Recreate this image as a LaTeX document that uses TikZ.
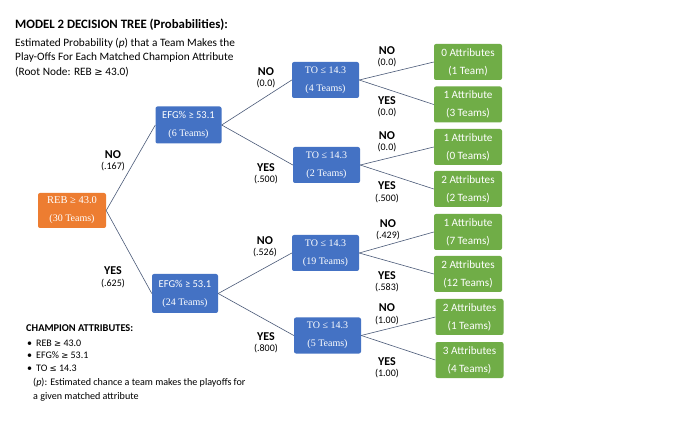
\documentclass[tikz,border=0pt]{standalone}
\usepackage{fontspec}
\setmainfont{Carlito}
\newfontfamily\serif{Liberation Serif}
\newfontfamily\symf{DejaVu Sans}
\definecolor{orng}{HTML}{ED7D31}
\definecolor{blu}{HTML}{4472C4}
\definecolor{grn}{HTML}{70AD47}
\definecolor{edgec}{HTML}{4A5A78}
\tikzset{
  tbox/.style={rounded corners=2pt, inner sep=0pt, text=white, align=center,
    font=\serif\fontsize{10}{18}\selectfont},
  rootbox/.style={tbox, fill=orng, minimum width=68pt, minimum height=35pt},
  efgbox/.style={tbox, fill=blu, minimum width=66pt, minimum height=37pt},
  tobox/.style={tbox, fill=blu, minimum width=67pt, minimum height=36pt},
  leafbox/.style={tbox, fill=grn, minimum width=68pt, minimum height=36pt,
    font=\fontsize{11.2}{18}\selectfont},
  conn/.style={draw=edgec, line width=0.6pt},
  lbl/.style={align=center, inner sep=0pt, font=\fontsize{10}{11.5}\selectfont},
  txt/.style={anchor=west, inner sep=0pt, font=\fontsize{11.3}{12}\selectfont}
}
\newcommand{\lb}[2]{{\bfseries\fontsize{12}{12}\selectfont #1}\\#2}
\begin{document}
\begin{tikzpicture}[x=1pt,y=-1pt]
\useasboundingbox (0,0) rectangle (694,422);
\fill[white] (0,0) rectangle (694,422);

% title block
\node[txt, font=\bfseries\fontsize{12.8}{14}\selectfont] (title) at (15,25) {MODEL 2 DECISION TREE (Probabilities):};
\node[txt] (sub1) at (15,43) {Estimated Probability (\textit{p}) that a Team Makes the};
\node[txt] (sub2) at (15,57.5) {Play-Offs For Each Matched Champion Attribute};
\node[txt] (sub3) at (15,72) {(Root Node: REB {\symf\fontsize{10}{12}\selectfont ≥} 43.0)};

% nodes
\node[rootbox] (root) at (72,210.5) {{\fontsize{10.5}{18}\selectfont REB ≥ 43.0}\\(30 Teams)};
\node[efgbox] (e1) at (188.5,125) {{\fontsize{10.5}{18}\selectfont\rmfamily EFG\% ≥ 53.1}\\(6 Teams)};
\node[efgbox, minimum height=39pt] (e2) at (185,293.5) {{\fontsize{10.5}{18}\selectfont\rmfamily EFG\% ≥ 53.1}\\(24 Teams)};

\node[tobox] (t1) at (325.5,80) {TO ≤ 14.3\\(4 Teams)};
\node[tobox] (t2) at (326.5,165) {TO ≤ 14.3\\(2 Teams)};
\node[tobox] (t3) at (325.5,253) {TO ≤ 14.3\\(19 Teams)};
\node[tobox] (t4) at (327.5,335.5) {TO ≤ 14.3\\(5 Teams)};

\node[leafbox] (l1) at (468,62) {0 Attributes\\(1 Team)};
\node[leafbox] (l2) at (468,104.5) {1 Attribute\\(3 Teams)};
\node[leafbox] (l3) at (468,147) {1 Attribute\\(0 Teams)};
\node[leafbox] (l4) at (468,189) {2 Attributes\\(2 Teams)};
\node[leafbox] (l5) at (468,232) {1 Attribute\\(7 Teams)};
\node[leafbox] (l6) at (468,274) {2 Attributes\\(12 Teams)};
\node[leafbox] (l7) at (469.5,317) {2 Attributes\\(1 Teams)};
\node[leafbox] (l8) at (469.5,360) {3 Attributes\\(4 Teams)};

% connectors
\draw[conn] (root.east) -- (e1.west);
\draw[conn] (root.east) -- (e2.west);
\draw[conn] (e1.east) -- (t1.west);
\draw[conn] (e1.east) -- (t2.west);
\draw[conn] (e2.east) -- (t3.west);
\draw[conn] (e2.east) -- (t4.west);
\draw[conn] (t1.east) -- (l1.west);
\draw[conn] (t1.east) -- (l2.west);
\draw[conn] (t2.east) -- (l3.west);
\draw[conn] (t2.east) -- (l4.west);
\draw[conn] (t3.east) -- (l5.west);
\draw[conn] (t3.east) -- (l6.west);
\draw[conn] (t4.east) -- (l7.west);
\draw[conn] (t4.east) -- (l8.west);

% edge labels
\node[lbl] (a1) at (113,161) {\lb{NO}{(.167)}};
\node[lbl] (a2) at (113,277.5) {\lb{YES}{(.625)}};
\node[lbl] (b1) at (266,78) {\lb{NO}{(0.0)}};
\node[lbl] (b2) at (266,174) {\lb{YES}{(.500)}};
\node[lbl] (b3) at (265,247) {\lb{NO}{(.526)}};
\node[lbl] (b4) at (266,343) {\lb{YES}{(.800)}};
\node[lbl] (c1) at (387,57) {\lb{NO}{(0.0)}};
\node[lbl] (c2) at (387,107) {\lb{YES}{(0.0)}};
\node[lbl] (c3) at (387,142) {\lb{NO}{(0.0)}};
\node[lbl] (c4) at (387,192.5) {\lb{YES}{(.500)}};
\node[lbl] (c5) at (388,230) {\lb{NO}{(.429)}};
\node[lbl] (c6) at (387,282) {\lb{YES}{(.583)}};
\node[lbl] (c7) at (387,314.5) {\lb{NO}{(1.00)}};
\node[lbl] (c8) at (387,368) {\lb{YES}{(1.00)}};

% legend
\node[txt, font=\bfseries\fontsize{10.4}{11}\selectfont] (champ) at (26,328) {CHAMPION ATTRIBUTES:};
\node[txt, font=\fontsize{10}{11}\selectfont] (bu1) at (27,343) {\textbullet\hspace{4pt}REB {\symf\fontsize{8.5}{11}\selectfont ≥} 43.0};
\node[txt, font=\fontsize{10}{11}\selectfont] (bu2) at (27,355.5) {\textbullet\hspace{4pt}EFG\% {\symf\fontsize{8.5}{11}\selectfont ≥} 53.1};
\node[txt, font=\fontsize{10}{11}\selectfont] (bu3) at (27,368) {\textbullet\hspace{4pt}TO {\symf\fontsize{8.5}{11}\selectfont ≤} 14.3};
\node[txt, font=\fontsize{10.1}{11}\selectfont] (pl1) at (33,383) {(\textit{p}): Estimated chance a team makes the playoffs for};
\node[txt, font=\fontsize{10.1}{11}\selectfont] (pl2) at (33,397) {a given matched attribute};
\end{tikzpicture}
\end{document}
